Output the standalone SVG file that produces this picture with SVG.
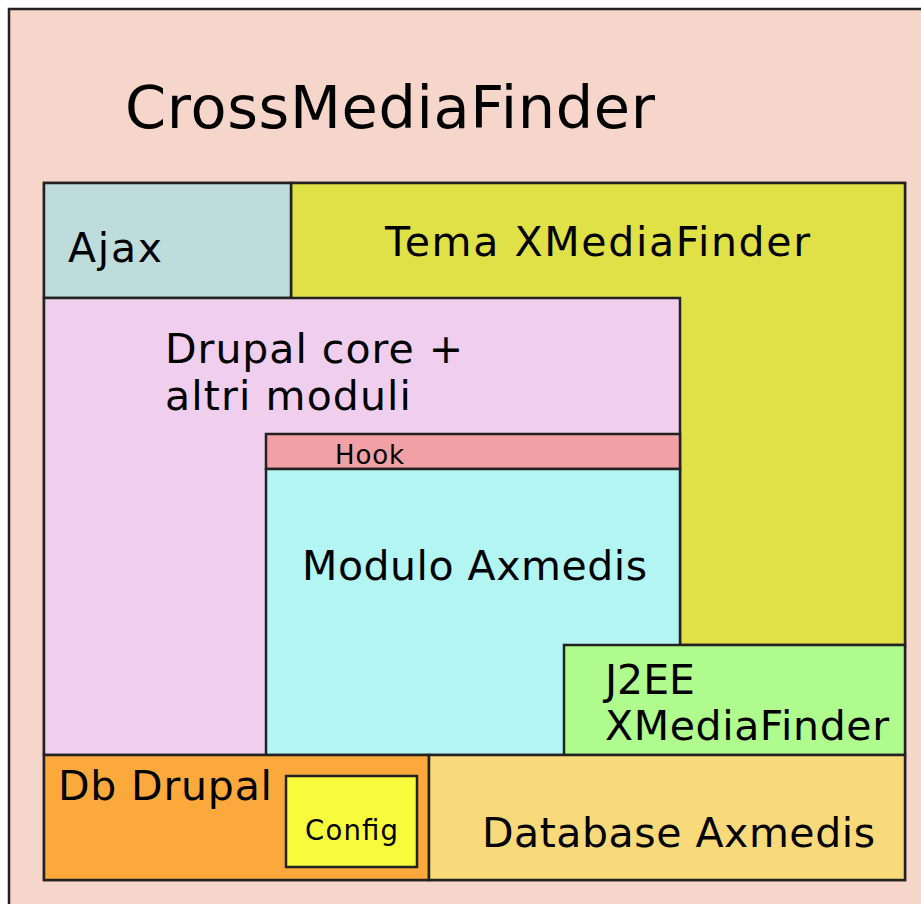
<svg xmlns="http://www.w3.org/2000/svg" width="921" height="904" viewBox="0 0 921 904">
<style>
rect{stroke:#222;stroke-width:2.5}
text{font-family:"DejaVu Sans",sans-serif;fill:#000}
.t{font-size:41px}
</style>
<rect width="921" height="904" fill="#fff" style="stroke:none"/>
<g id="crossmediafinder">
<rect x="9" y="9" width="930" height="920" fill="#f6d5cb"/>
<text x="125" y="128" font-size="59" textLength="530" lengthAdjust="spacing">CrossMediaFinder</text>
</g>
<g id="container">
<rect x="44" y="183" width="861" height="697" fill="none"/>
</g>
<g id="tema">
<rect x="291" y="183" width="614" height="462" fill="#e0e047"/>
<text class="t" x="385" y="256" textLength="425" lengthAdjust="spacing">Tema XMediaFinder</text>
</g>
<g id="ajax">
<rect x="44" y="183" width="247" height="115" fill="#bfdcdc"/>
<text class="t" x="68" y="262" textLength="94" lengthAdjust="spacing">Ajax</text>
</g>
<g id="drupal">
<rect x="44" y="298" width="636" height="457" fill="#f0cfee"/>
<text class="t" x="165" y="363" textLength="298" lengthAdjust="spacing">Drupal core +</text>
<text class="t" x="165" y="410" textLength="246" lengthAdjust="spacing">altri moduli</text>
</g>
<g id="hook">
<rect x="266" y="434" width="414" height="35" fill="#f2a0a5"/>
<text x="335" y="464" font-size="26" textLength="69" lengthAdjust="spacing">Hook</text>
</g>
<g id="modulo">
<rect x="266" y="469" width="414" height="286" fill="#b3f5f3"/>
<text class="t" x="302" y="580" textLength="345" lengthAdjust="spacing">Modulo Axmedis</text>
</g>
<g id="j2ee">
<rect x="564" y="645" width="341" height="110" fill="#b0fb8d"/>
<text class="t" x="605" y="694" textLength="90" lengthAdjust="spacing">J2EE</text>
<text class="t" x="605" y="740" textLength="284" lengthAdjust="spacing">XMediaFinder</text>
</g>
<g id="dbdrupal">
<rect x="44" y="755" width="385" height="125" fill="#fba83c"/>
<text class="t" x="58" y="800" textLength="214" lengthAdjust="spacing">Db Drupal</text>
</g>
<g id="config">
<rect x="286" y="776" width="131" height="91" fill="#f8fb3b"/>
<text x="305" y="840" font-size="27.5" textLength="93" lengthAdjust="spacing">Config</text>
</g>
<g id="dbaxmedis">
<rect x="429" y="755" width="476" height="125" fill="#f9da7a"/>
<text class="t" x="482" y="847" textLength="393" lengthAdjust="spacing">Database Axmedis</text>
</g>
<g id="connectors"/>
</svg>
